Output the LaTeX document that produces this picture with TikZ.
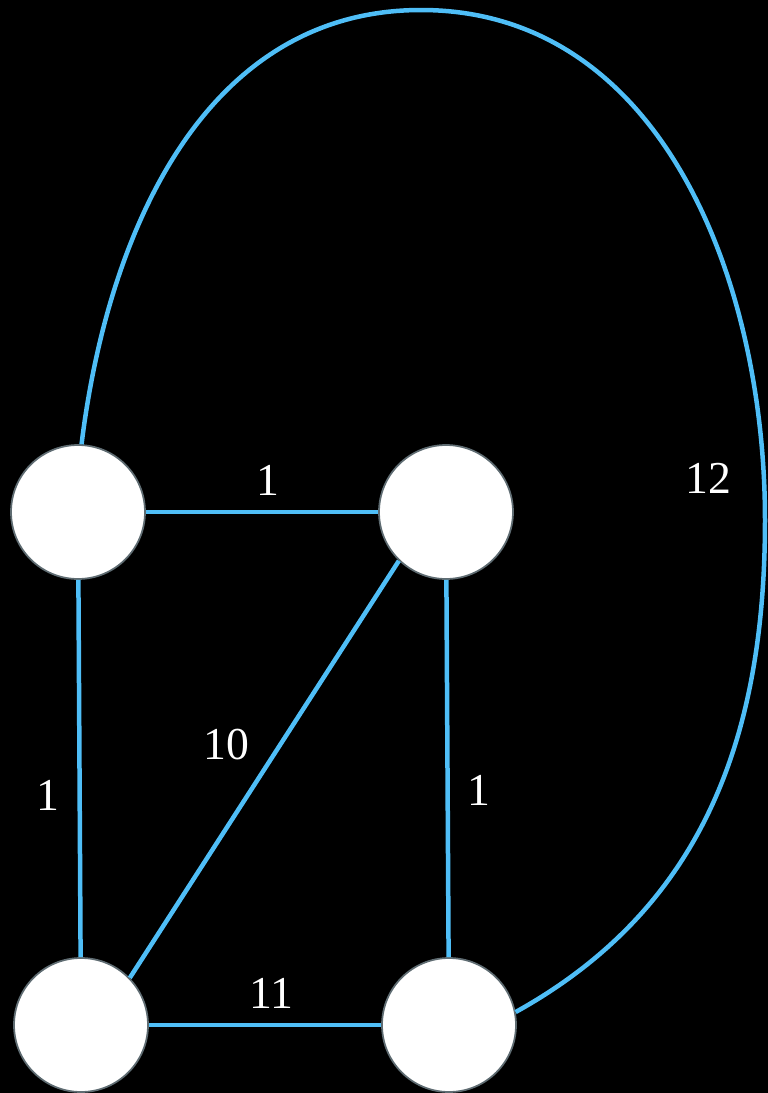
\documentclass[tikz,border=0pt]{standalone}
\usepackage{fontspec}
\setmainfont{Liberation Serif}
\usepackage{tikz}
\usetikzlibrary{positioning,calc}
\definecolor{cLink}{RGB}{79,190,247}
\definecolor{cRim}{RGB}{95,108,114}
\begin{document}
\begin{tikzpicture}[x=0.02cm, y=-0.02cm,
  vtx/.style={circle, draw=cRim, line width=0.035cm, fill=white, minimum size=2.68cm, inner sep=0pt},
  lnk/.style={draw=cLink, line width=0.09cm},
  wt/.style={text=white, font=\fontsize{26}{30}\selectfont, inner sep=0pt}]
  \fill[black] (0,0) rectangle (768,1093);
  \useasboundingbox (0,0) rectangle (768,1093);
  % vertices
  \node[vtx] (tl) at (78,512) {};
  \node[vtx] (tr) at (446,512) {};
  \node[vtx] (bl) at (81,1025) {};
  \node[vtx] (br) at (449,1025) {};
  % waypoints of the outer arc
  \coordinate (top) at (421,10);
  \coordinate (rgt) at (765,520);
  % edges
  \draw[lnk] (tl) -- (tr);
  \draw[lnk] (tl) -- (bl);
  \draw[lnk] (tr) -- (br);
  \draw[lnk] (tr.226) -- (bl.44);
  \draw[lnk] (bl) -- (br);
  \draw[lnk] (tl.87) to[out=83, in=180] (top) to[out=0, in=90] (rgt) to[out=-90, in=29] (br.11);
  % weights
  \node[wt] (w1) at (268,480) {1};
  \node[wt] (w2) at (708,478) {12};
  \node[wt] (w3) at (226,745) {10};
  \node[wt] (w4) at (48,795) {1};
  \node[wt] (w5) at (479,790) {1};
  \node[wt] (w6) at (271,993) {11};
\end{tikzpicture}
\end{document}
